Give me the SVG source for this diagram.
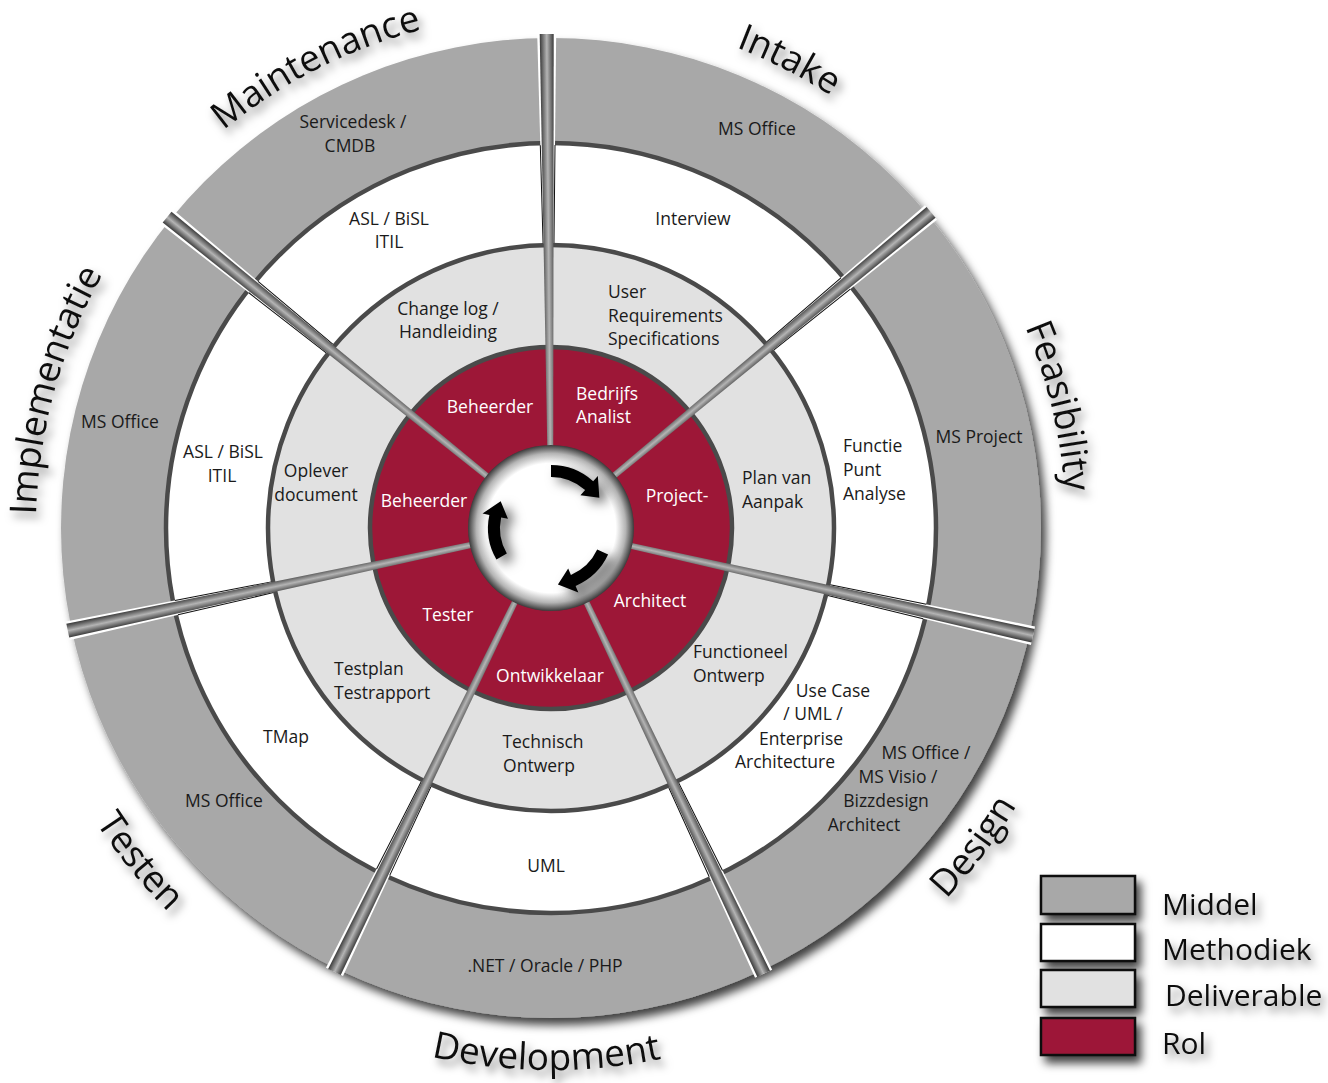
<svg xmlns="http://www.w3.org/2000/svg" xmlns:xlink="http://www.w3.org/1999/xlink" width="1328" height="1083" viewBox="0 0 1328 1083">
<style>
text{font-family:'Open Sans','Liberation Sans',sans-serif;}
.lbl{font-size:17.5px;fill:#1a1a1a;text-anchor:middle}
.st{text-anchor:start}
.rol{fill:#ffffff}
.ttl{font-size:37px;fill:#111}
.leg{font-size:30px;fill:#111;text-anchor:start}
.ring{fill:none;stroke:#4a4a4a;stroke-width:4.5}
</style>
<defs>
<filter id="sh" x="-20%" y="-20%" width="140%" height="140%">
<feDropShadow dx="5" dy="7" stdDeviation="5" flood-color="#000" flood-opacity="0.75"/>
</filter>
<filter id="tsh" x="-20%" y="-30%" width="140%" height="160%">
<feDropShadow dx="4" dy="6" stdDeviation="4" flood-color="#000" flood-opacity="0.5"/>
</filter>
<filter id="ash" x="-50%" y="-50%" width="200%" height="200%">
<feDropShadow dx="7" dy="5" stdDeviation="6" flood-color="#000" flood-opacity="0.55"/>
</filter>
<linearGradient id="barG" x1="0" y1="0" x2="0" y2="1">
<stop offset="0" stop-color="#3a3a3a"/>
<stop offset="0.5" stop-color="#b4b4b4"/>
<stop offset="1" stop-color="#3a3a3a"/>
</linearGradient>
<radialGradient id="hubG" cx="0.5" cy="0.5" r="0.5">
<stop offset="0" stop-color="#fff"/>
<stop offset="0.78" stop-color="#fff"/>
<stop offset="0.9" stop-color="#b4b4b4"/>
<stop offset="1" stop-color="#3a3a3a"/>
</radialGradient>
<path id="gap" d="M284.9,-5.47 L493.9,-9.48 L493.9,9.48 L284.9,5.47 Z" fill="#fff"/>
<path id="gapedge" d="M284.9,-5.47 L382.9,-7.35 M284.9,5.47 L382.9,7.35" stroke="#111" stroke-width="1" fill="none"/>
<polygon id="bar" points="82,-3 494,-7 494,7 82,3" fill="url(#barG)"/>
<path id="arrow" d="M63,0 A63,63 0 0 1 46.82,42.16 L52.02,46.84 L30.2,48.34 L32.7,29.44 L37.9,34.13 A51,51 0 0 0 51,0 Z" fill="#000"/>
<path id="pMaint" d="M96.3,286.2 A515,515 0 0 1 622.7,18.0"/>
<path id="pIntake" d="M479.3,18.0 A515,515 0 0 1 1005.7,286.2"/>
<path id="pFeas" d="M892.2,142.3 A515,515 0 0 1 1030.2,716.7"/>
<path id="pImpl" d="M65.5,699.9 A515,515 0 0 1 223.4,130.6"/>
<path id="pDev" d="M236.3,969.3 A542,542 0 0 0 858.0,974.7"/>
<path id="pTest" d="M10.3,565.8 A542,542 0 0 0 401.6,1049.0"/>
<path id="pDesign" d="M718.5,1043.5 A542,542 0 0 0 1092.7,546.9"/>
</defs>
<rect width="1328" height="1083" fill="#fff"/>

<g id="wheel" transform="translate(551,528)">
<circle r="490" fill="#a8a8a8" filter="url(#sh)"/>
<circle r="385" fill="#fff"/>
<circle r="283" fill="#e1e1e1"/>
<circle r="181" fill="#9d1737"/>
<circle class="ring" r="385"/>
<circle class="ring" r="283"/>
<circle class="ring" r="181"/>
<g id="connectors">
<g transform="rotate(-90.5)"><use xlink:href="#gap"/><use xlink:href="#gapedge"/><use xlink:href="#bar"/></g>
<g transform="rotate(-39.7)"><use xlink:href="#gap"/><use xlink:href="#gapedge"/><use xlink:href="#bar"/></g>
<g transform="rotate(12.6)"><use xlink:href="#gap"/><use xlink:href="#gapedge"/><use xlink:href="#bar"/></g>
<g transform="rotate(64.5)"><use xlink:href="#gap"/><use xlink:href="#gapedge"/><use xlink:href="#bar"/></g>
<g transform="rotate(116)"><use xlink:href="#gap"/><use xlink:href="#gapedge"/><use xlink:href="#bar"/></g>
<g transform="rotate(168)"><use xlink:href="#gap"/><use xlink:href="#gapedge"/><use xlink:href="#bar"/></g>
<g transform="rotate(219)"><use xlink:href="#gap"/><use xlink:href="#gapedge"/><use xlink:href="#bar"/></g>
</g>
<g id="hub">
<circle r="83" fill="url(#hubG)"/>
<g filter="url(#ash)">
<use xlink:href="#arrow" transform="rotate(-90)"/>
<use xlink:href="#arrow" transform="rotate(25)"/>
<use xlink:href="#arrow" transform="rotate(150)"/>
</g>
</g>
</g>

<g id="seg-maintenance">
<text class="ttl" filter="url(#tsh)"><textPath xlink:href="#pMaint" startOffset="50%" text-anchor="middle">Maintenance</textPath></text>
<text class="lbl" x="353" y="128">Servicedesk /</text>
<text class="lbl" x="350" y="152">CMDB</text>
<text class="lbl" x="389" y="225">ASL / BiSL</text>
<text class="lbl" x="389" y="248">ITIL</text>
<text class="lbl" x="448" y="315">Change log /</text>
<text class="lbl" x="448" y="338">Handleiding</text>
<text class="lbl rol" x="490" y="413">Beheerder</text>
</g>

<g id="seg-intake">
<text class="ttl" filter="url(#tsh)"><textPath xlink:href="#pIntake" startOffset="50%" text-anchor="middle">Intake</textPath></text>
<text class="lbl" x="757" y="135">MS Office</text>
<text class="lbl" x="693" y="225">Interview</text>
<text class="lbl st" x="608" y="298">User</text>
<text class="lbl st" x="608" y="322">Requirements</text>
<text class="lbl st" x="608" y="345">Specifications</text>
<text class="lbl rol st" x="576" y="400">Bedrijfs</text>
<text class="lbl rol st" x="576" y="423">Analist</text>
</g>

<g id="seg-feasibility">
<text class="ttl" filter="url(#tsh)"><textPath xlink:href="#pFeas" startOffset="50%" text-anchor="middle">Feasibility</textPath></text>
<text class="lbl" x="979" y="443">MS Project</text>
<text class="lbl st" x="843" y="452">Functie</text>
<text class="lbl st" x="843" y="476">Punt</text>
<text class="lbl st" x="843" y="500">Analyse</text>
<text class="lbl st" x="742" y="484">Plan van</text>
<text class="lbl st" x="742" y="508">Aanpak</text>
<text class="lbl rol" x="677" y="502">Project-</text>
</g>

<g id="seg-design">
<text class="ttl" filter="url(#tsh)"><textPath xlink:href="#pDesign" startOffset="50%" text-anchor="middle">Design</textPath></text>
<text class="lbl" x="926" y="759">MS Office /</text>
<text class="lbl" x="898" y="783">MS Visio /</text>
<text class="lbl" x="886" y="807">Bizzdesign</text>
<text class="lbl" x="864" y="831">Architect</text>
<text class="lbl" x="833" y="697">Use Case</text>
<text class="lbl" x="813" y="720">/ UML /</text>
<text class="lbl" x="801" y="745">Enterprise</text>
<text class="lbl" x="785" y="768">Architecture</text>
<text class="lbl st" x="693" y="658">Functioneel</text>
<text class="lbl st" x="693" y="682">Ontwerp</text>
<text class="lbl rol" x="650" y="607">Architect</text>
</g>

<g id="seg-development">
<text class="ttl" filter="url(#tsh)"><textPath xlink:href="#pDev" startOffset="50%" text-anchor="middle">Development</textPath></text>
<text class="lbl" x="545" y="972">.NET / Oracle / PHP</text>
<text class="lbl" x="546" y="872">UML</text>
<text class="lbl" x="543" y="748">Technisch</text>
<text class="lbl" x="539" y="772">Ontwerp</text>
<text class="lbl rol" x="550" y="682">Ontwikkelaar</text>
</g>

<g id="seg-testen">
<text class="ttl" filter="url(#tsh)"><textPath xlink:href="#pTest" startOffset="50%" text-anchor="middle">Testen</textPath></text>
<text class="lbl" x="224" y="807">MS Office</text>
<text class="lbl" x="286" y="743">TMap</text>
<text class="lbl st" x="334" y="675">Testplan</text>
<text class="lbl st" x="334" y="699">Testrapport</text>
<text class="lbl rol" x="448" y="621">Tester</text>
</g>

<g id="seg-implementatie">
<text class="ttl" filter="url(#tsh)"><textPath xlink:href="#pImpl" startOffset="50%" text-anchor="middle">Implementatie</textPath></text>
<text class="lbl" x="120" y="428">MS Office</text>
<text class="lbl" x="223" y="458">ASL / BiSL</text>
<text class="lbl" x="222" y="482">ITIL</text>
<text class="lbl" x="316" y="477">Oplever</text>
<text class="lbl" x="316" y="501">document</text>
<text class="lbl rol" x="424" y="507">Beheerder</text>
</g>

<g id="legend">
<g filter="url(#sh)" stroke="#111" stroke-width="2.5">
<rect x="1041" y="876" width="94" height="38" fill="#a8a8a8"/>
<rect x="1041" y="924" width="94" height="37" fill="#fff"/>
<rect x="1041" y="970" width="94" height="37" fill="#e1e1e1"/>
<rect x="1041" y="1018" width="94" height="37" fill="#9d1737"/>
</g>
<g filter="url(#tsh)">
<text class="leg" x="1162" y="915">Middel</text>
<text class="leg" x="1162" y="960">Methodiek</text>
<text class="leg" x="1165" y="1006">Deliverable</text>
<text class="leg" x="1162" y="1054">Rol</text>
</g>
</g>
</svg>
